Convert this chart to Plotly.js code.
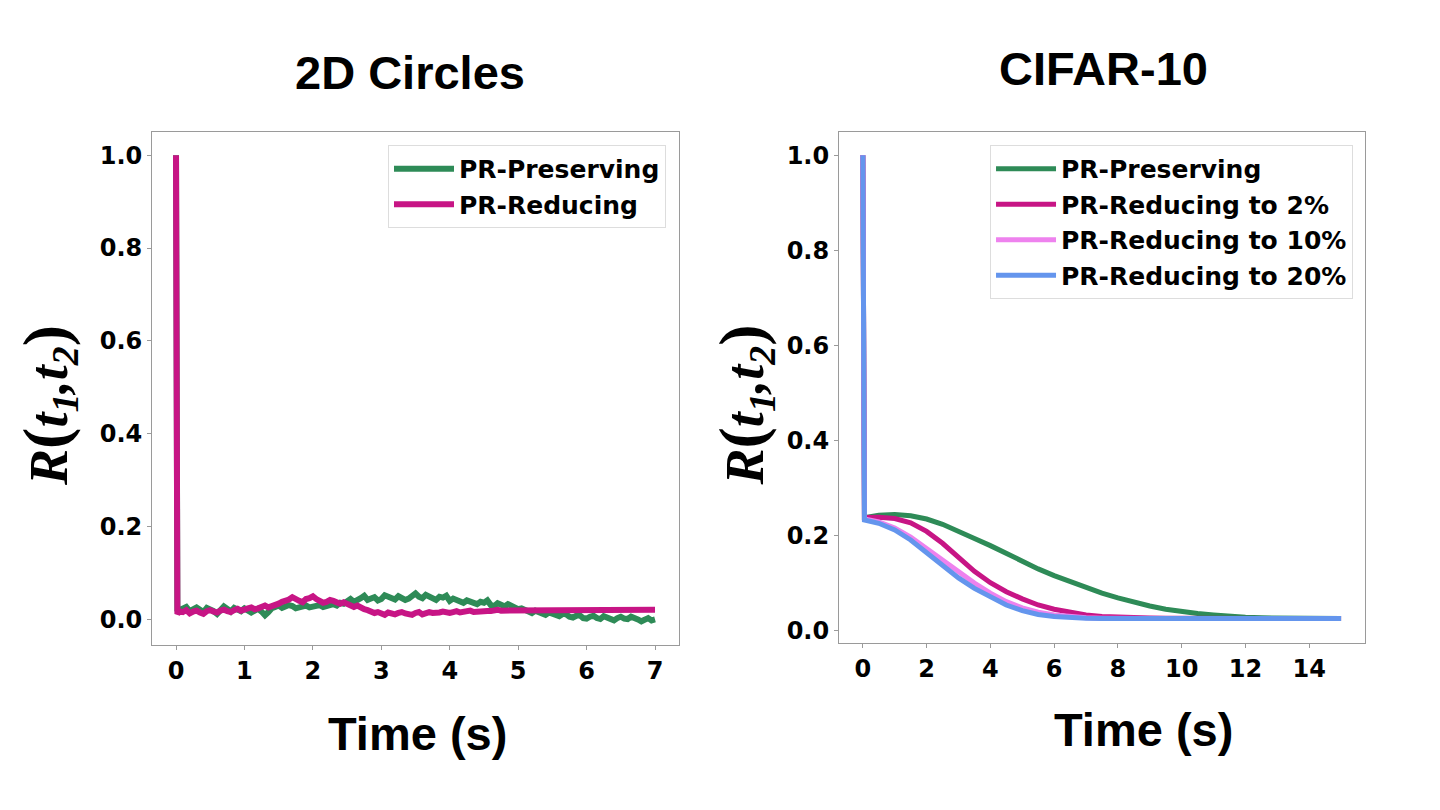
<!DOCTYPE html>
<html>
<head>
<meta charset="utf-8">
<script src="https://cdn.plot.ly/plotly-3.0.1.min.js"></script>
<style>html,body{margin:0;padding:0;background:#fff;}#chart{width:1440px;height:810px;}</style>
</head>
<body>
<div id="chart"></div>
<script>
// ---------- Left panel: 2D Circles ----------
const circlesTime = [0, 0.02, 0.05, 0.1, 0.15, 0.2, 0.25, 0.3, 0.35, 0.4, 0.45, 0.5,
  0.55, 0.6, 0.65, 0.7, 0.75, 0.8, 0.85, 0.9, 0.95, 1.0,
  1.05, 1.1, 1.15, 1.2, 1.25, 1.3, 1.35, 1.4, 1.45, 1.5,
  1.55, 1.6, 1.65, 1.7, 1.75, 1.8, 1.85, 1.9, 1.95, 2.0,
  2.05, 2.1, 2.15, 2.2, 2.25, 2.3, 2.35, 2.4, 2.45, 2.5,
  2.55, 2.6, 2.65, 2.7, 2.75, 2.8, 2.85, 2.9, 2.95, 3.0,
  3.05, 3.1, 3.15, 3.2, 3.25, 3.3, 3.35, 3.4, 3.45, 3.5,
  3.55, 3.6, 3.65, 3.7, 3.75, 3.8, 3.85, 3.9, 3.95, 4.0,
  4.05, 4.1, 4.15, 4.2, 4.25, 4.3, 4.35, 4.4, 4.45, 4.5,
  4.55, 4.6, 4.65, 4.7, 4.75, 4.8, 4.85, 4.9, 4.95, 5.0,
  5.05, 5.1, 5.15, 5.2, 5.25, 5.3, 5.35, 5.4, 5.45, 5.5,
  5.55, 5.6, 5.65, 5.7, 5.75, 5.8, 5.85, 5.9, 5.95, 6.0,
  6.05, 6.1, 6.15, 6.2, 6.25, 6.3, 6.35, 6.4, 6.45, 6.5,
  6.55, 6.6, 6.65, 6.7, 6.75, 6.8, 6.85, 6.9, 6.95, 7.0];
const circlesPreserving = [1.0, 0.022, 0.020, 0.024, 0.027, 0.018, 0.022, 0.026, 0.021, 0.016, 0.025, 0.022,
  0.018, 0.012, 0.020, 0.028, 0.023, 0.017, 0.025, 0.021, 0.018, 0.024,
  0.020, 0.015, 0.019, 0.023, 0.017, 0.009, 0.016, 0.024, 0.027, 0.030,
  0.025, 0.027, 0.031, 0.029, 0.024, 0.026, 0.029, 0.030, 0.026, 0.028,
  0.032, 0.031, 0.027, 0.029, 0.032, 0.033, 0.030, 0.036, 0.034, 0.040,
  0.044, 0.038, 0.041, 0.046, 0.051, 0.042, 0.045, 0.048, 0.041, 0.044,
  0.052, 0.049, 0.046, 0.043, 0.050, 0.047, 0.042, 0.045, 0.051, 0.056,
  0.049, 0.046, 0.053, 0.050, 0.045, 0.042, 0.049, 0.047, 0.051, 0.040,
  0.045, 0.043, 0.039, 0.036, 0.041, 0.039, 0.034, 0.033, 0.038, 0.036,
  0.041, 0.031, 0.029, 0.035, 0.032, 0.028, 0.033, 0.030, 0.025, 0.022,
  0.024, 0.020, 0.017, 0.014, 0.019, 0.017, 0.012, 0.010, 0.015, 0.013,
  0.009, 0.007, 0.012, 0.011, 0.006, 0.004, 0.008, 0.009, 0.003, 0.002,
  0.006, 0.008, 0.003, 0.001, 0.007, 0.005, 0.000, -0.002, 0.003, 0.006,
  0.002, 0.001, 0.006, 0.004, 0.000, -0.004, 0.001, 0.003, -0.002, 0.000];
const circlesReducing = [1.0, 0.012, 0.018, 0.016, 0.020, 0.013, 0.017, 0.019, 0.015, 0.012, 0.018, 0.020,
  0.017, 0.015, 0.019, 0.021, 0.018, 0.016, 0.020, 0.023, 0.019, 0.020,
  0.024, 0.026, 0.022, 0.024, 0.028, 0.030, 0.026, 0.028, 0.032, 0.034,
  0.038, 0.039, 0.043, 0.048, 0.042, 0.040, 0.037, 0.044, 0.046, 0.050,
  0.044, 0.041, 0.036, 0.038, 0.042, 0.040, 0.036, 0.034, 0.037, 0.033,
  0.029, 0.027, 0.030, 0.025, 0.022, 0.020, 0.017, 0.014, 0.016, 0.012,
  0.010, 0.015, 0.013, 0.011, 0.014, 0.016, 0.013, 0.012, 0.010, 0.014,
  0.016, 0.011, 0.013, 0.016, 0.014, 0.013, 0.015, 0.017, 0.015, 0.014,
  0.016, 0.018, 0.015, 0.016, 0.018, 0.019, 0.016, 0.017, 0.019, 0.020,
  0.018, 0.018, 0.020, 0.021, 0.019, 0.019, 0.021, 0.021, 0.020, 0.020,
  0.021, 0.020, 0.021, 0.021, 0.020, 0.021, 0.021, 0.020, 0.021, 0.021,
  0.020, 0.021, 0.021, 0.020, 0.021, 0.021, 0.020, 0.021, 0.021, 0.020,
  0.021, 0.021, 0.020, 0.021, 0.021, 0.020, 0.021, 0.021, 0.020, 0.021,
  0.021, 0.020, 0.021, 0.021, 0.020, 0.021, 0.021, 0.020, 0.021, 0.021];

// ---------- Right panel: CIFAR-10 ----------
const cifarTime = [0, 0.05, 0.5, 1.0, 1.5, 2.0, 2.5, 3.0, 3.5, 4.0, 4.5, 5.0, 5.5, 6.0, 6.5, 7.0,
  7.5, 8.0, 8.5, 9.0, 9.5, 10.0, 10.5, 11.0, 11.5, 12.0, 12.5, 13.0, 13.5, 14.0, 14.5, 15.0];
const cifarPreserving = [1.0, 0.237, 0.242, 0.2435, 0.241, 0.234, 0.223, 0.209, 0.193, 0.178, 0.161, 0.144, 0.129, 0.115, 0.102, 0.089,
  0.078, 0.068, 0.059, 0.051, 0.044, 0.039, 0.035, 0.032, 0.029, 0.027, 0.026, 0.0255, 0.025, 0.0248, 0.0246, 0.0245];
const cifarReduce2 = [1.0, 0.237, 0.238, 0.235, 0.226, 0.208, 0.183, 0.153, 0.124, 0.100, 0.081, 0.066, 0.053, 0.044, 0.037, 0.032,
  0.029, 0.027, 0.026, 0.0255, 0.025, 0.0248, 0.0246, 0.0245, 0.0245, 0.0245, 0.0245, 0.0245, 0.0245, 0.0245, 0.0245, 0.0245];
const cifarReduce10 = [1.0, 0.234, 0.228, 0.215, 0.196, 0.172, 0.146, 0.121, 0.099, 0.078, 0.060, 0.047, 0.038, 0.032, 0.028, 0.026,
  0.0252, 0.0245, 0.0245, 0.0245, 0.0245, 0.0245, 0.0245, 0.0245, 0.0245, 0.0245, 0.0245, 0.0245, 0.0245, 0.0245, 0.0245, 0.0245];
const cifarReduce20 = [1.0, 0.232, 0.225, 0.211, 0.190, 0.164, 0.136, 0.110, 0.088, 0.069, 0.053, 0.041, 0.033, 0.029, 0.026, 0.025,
  0.0245, 0.0245, 0.0245, 0.0245, 0.0245, 0.0245, 0.0245, 0.0245, 0.0245, 0.0245, 0.0245, 0.0245, 0.0245, 0.0245, 0.0245, 0.0245];

const leftTicks = [0, 1, 2, 3, 4, 5, 6, 7];
const rightTicks = [0, 2, 4, 6, 8, 10, 12, 14];
const yTicks = [0.0, 0.2, 0.4, 0.6, 0.8, 1.0];
const yTickText = ['0.0', '0.2', '0.4', '0.6', '0.8', '1.0'];

const GREEN = '#2E8B57', MAGENTA = '#C71585', VIOLET = '#EE82EE', BLUE = '#6495ED';
const LW_LEFT = 6, LW_RIGHT = 5;

const traces = [
  {x: circlesTime, y: circlesPreserving, name: 'PR-Preserving', mode: 'lines', line: {color: GREEN, width: LW_LEFT}, xaxis: 'x', yaxis: 'y', legend: 'legend'},
  {x: circlesTime, y: circlesReducing, name: 'PR-Reducing', mode: 'lines', line: {color: MAGENTA, width: LW_LEFT}, xaxis: 'x', yaxis: 'y', legend: 'legend'},
  {x: cifarTime, y: cifarPreserving, name: 'PR-Preserving', mode: 'lines', line: {color: GREEN, width: LW_RIGHT}, xaxis: 'x2', yaxis: 'y2', legend: 'legend2'},
  {x: cifarTime, y: cifarReduce2, name: 'PR-Reducing to 2%', mode: 'lines', line: {color: MAGENTA, width: LW_RIGHT}, xaxis: 'x2', yaxis: 'y2', legend: 'legend2'},
  {x: cifarTime, y: cifarReduce10, name: 'PR-Reducing to 10%', mode: 'lines', line: {color: VIOLET, width: LW_RIGHT}, xaxis: 'x2', yaxis: 'y2', legend: 'legend2'},
  {x: cifarTime, y: cifarReduce20, name: 'PR-Reducing to 20%', mode: 'lines', line: {color: BLUE, width: LW_RIGHT}, xaxis: 'x2', yaxis: 'y2', legend: 'legend2'}
];

const tickFont = {family: 'DejaVu Sans', size: 24, color: '#000', weight: 'bold'};
const axisCommon = {
  showgrid: false, zeroline: false, showline: true, mirror: true,
  linecolor: '#9a9a9a', linewidth: 1, ticks: 'outside', ticklen: 4, tickcolor: '#9a9a9a',
  tickfont: tickFont
};
const legendCommon = {
  font: {family: 'DejaVu Sans', size: 25, color: '#000', weight: 'bold'},
  bgcolor: 'rgba(255,255,255,0.8)', bordercolor: '#dddddd', borderwidth: 1,
  xanchor: 'right', yanchor: 'top', itemwidth: 60, tracegroupgap: 4
};

const titleFont = {family: 'Liberation Sans', size: 47, color: '#000', weight: 'bold'};
const yTitleFont = {family: 'Liberation Serif', size: 54, color: '#000', weight: 'bold', style: 'italic'};
const yTitleText = '<b><i>R</i></b><span style="font-size:64px;font-style:normal">(</span><b><i>t<sub>1</sub>,t<sub>2</sub></i></b><span style="font-size:64px;font-style:normal">)</span>';

const layout = {
  width: 1440, height: 810,
  margin: {l: 0, r: 0, t: 0, b: 0},
  paper_bgcolor: '#fff', plot_bgcolor: '#fff',
  showlegend: true,
  xaxis: Object.assign({}, axisCommon, {domain: [0.1056, 0.4715], range: [-0.35, 7.35], tickvals: leftTicks}),
  yaxis: Object.assign({}, axisCommon, {domain: [0.2037, 0.837], range: [-0.055, 1.05], tickvals: yTicks, ticktext: yTickText}),
  xaxis2: Object.assign({}, axisCommon, {domain: [0.5826, 0.9479], range: [-0.75, 15.75], tickvals: rightTicks, anchor: 'y2'}),
  yaxis2: Object.assign({}, axisCommon, {domain: [0.2062, 0.837], range: [-0.027, 1.049], tickvals: yTicks, ticktext: yTickText, anchor: 'x2'}),
  legend: Object.assign({}, legendCommon, {x: 0.4625, y: 0.821}),
  legend2: Object.assign({}, legendCommon, {x: 0.9396, y: 0.821}),
  annotations: [
    {text: '2D Circles', xref: 'paper', yref: 'paper', x: 0.2847, y: 0.911, showarrow: false, font: titleFont, xanchor: 'center', yanchor: 'middle'},
    {text: 'CIFAR-10', xref: 'paper', yref: 'paper', x: 0.766, y: 0.916, showarrow: false, font: titleFont, xanchor: 'center', yanchor: 'middle'},
    {text: 'Time (s)', xref: 'paper', yref: 'paper', x: 0.290, y: 0.095, showarrow: false, font: titleFont, xanchor: 'center', yanchor: 'middle'},
    {text: 'Time (s)', xref: 'paper', yref: 'paper', x: 0.794, y: 0.099, showarrow: false, font: titleFont, xanchor: 'center', yanchor: 'middle'},
    {text: yTitleText, xref: 'paper', yref: 'paper', x: 0.0333, y: 0.5, showarrow: false, font: yTitleFont, textangle: -90, xanchor: 'center', yanchor: 'middle'},
    {text: yTitleText, xref: 'paper', yref: 'paper', x: 0.517, y: 0.5, showarrow: false, font: yTitleFont, textangle: -90, xanchor: 'center', yanchor: 'middle'}
  ]
};

Plotly.newPlot('chart', traces, layout, {displayModeBar: false, staticPlot: true});
</script>
</body>
</html>
